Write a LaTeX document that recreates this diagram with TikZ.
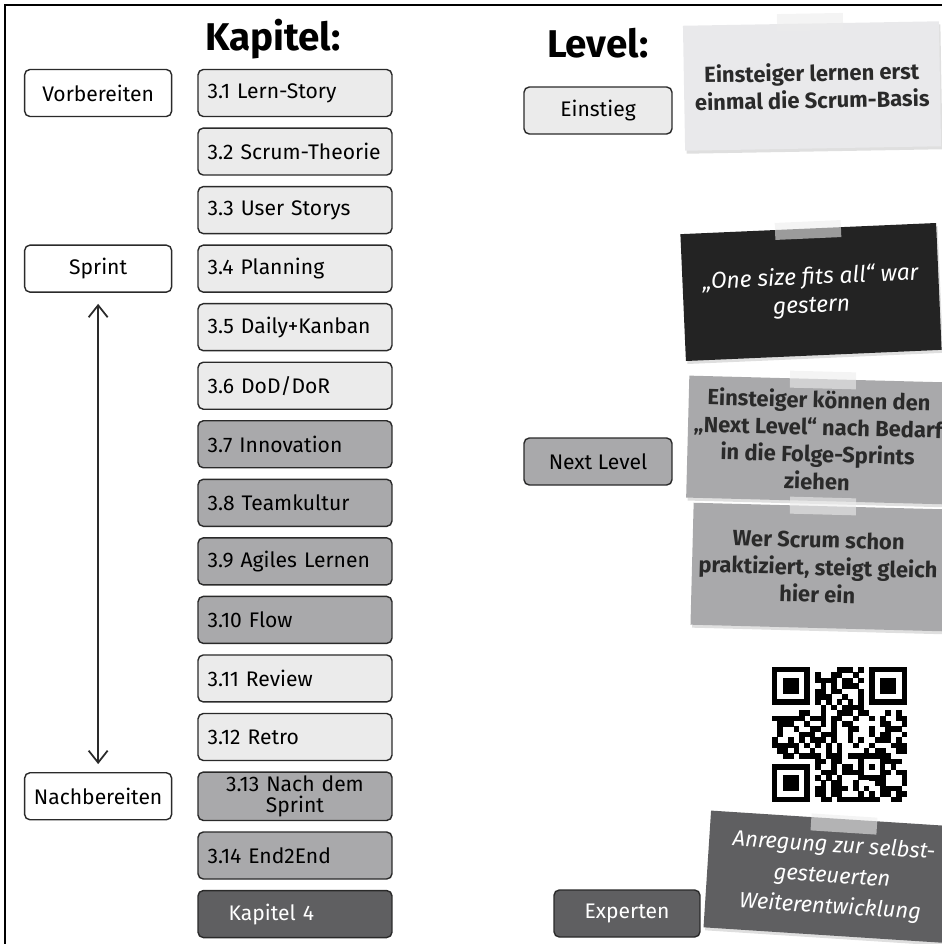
\documentclass[tikz,border=0pt]{standalone}
\usepackage{fontspec}
\setmainfont{Fira Sans}
\usepackage{xcolor}
\usetikzlibrary{positioning,arrows.meta,shadows}

\definecolor{boxlight}{HTML}{EBEBEB}
\definecolor{boxmid}{HTML}{A9A9AB}
\definecolor{boxdark}{HTML}{5F5F61}
\definecolor{notelight}{HTML}{E9E9EB}
\definecolor{noteblack}{HTML}{232323}
\definecolor{inkline}{HTML}{2A2A2A}

\begin{document}
\begin{tikzpicture}[x=0.02cm, y=-0.02cm,
  font=\fontsize{12}{12}\selectfont,
  chap/.style={draw=inkline, line width=0.8pt, rounded corners=3pt, minimum width=3.88cm, minimum height=0.94cm, text width=3.5cm, align=left, inner xsep=0.19cm, inner ysep=2pt},
  phase/.style={draw=inkline, line width=0.8pt, rounded corners=3pt, minimum width=2.94cm, minimum height=0.94cm, align=center, fill=white},
  levelbox/.style={phase, minimum width=2.96cm},
  note/.style={minimum width=5.12cm, minimum height=2.5cm, align=center, text=inkline, font=\fontsize{12.5}{15.5}\selectfont\bfseries, drop shadow={shadow xshift=0.3mm, shadow yshift=-0.6mm, opacity=0.25}},
  darknote/.style={note, text=white, font=\fontsize{13}{16}\selectfont\itshape},
  strip/.style={fill=gray!15, fill opacity=0.6, minimum width=1.32cm, minimum height=0.34cm, inner sep=0pt},
  title/.style={font=\fontsize{22}{26}\selectfont\bfseries, anchor=base},
  >={Straight Barb[length=2.4mm, width=3.8mm, line width=1pt]}]
\path[use as bounding box, clip] (0,0) rectangle (942,944);
\draw[line width=0.6pt] (5,944) -- (5,5) -- (942,5);

\node[title] (kap) at (273,50) {Kapitel:};
\node[title] (lev) at (598,57) {Level:};

\node[chap, fill=boxlight] (c1) at (295,93) {3.1 Lern-Story};
\foreach \n/\txt/\col [remember=\n as \p (initially 1)] in {
  2/3.2 Scrum-Theorie/boxlight, 3/3.3 User Storys/boxlight,
  4/3.4 Planning/boxlight, 5/3.5 Daily+Kanban/boxlight,
  6/{3.6 DoD/DoR}/boxlight, 7/3.7 Innovation/boxmid,
  8/3.8 Teamkultur/boxmid, 9/3.9 Agiles Lernen/boxmid,
  10/3.10 Flow/boxmid, 11/3.11 Review/boxlight,
  12/3.12 Retro/boxlight}
  \node[chap, fill=\col, below=0.203cm of c\p] (c\n) {\txt};
\node[chap, fill=boxmid, align=center, below=0.203cm of c12] (c13) {3.13 Nach dem\\Sprint};
\node[chap, fill=boxmid, below=0.203cm of c13] (c14) {3.14 End2End};
\node[chap, fill=boxdark, text=white, below=0.203cm of c14] (c15) {\quad Kapitel 4};

\node[phase, left=0.5cm of c1] (vorb) {Vorbereiten};
\node[phase, left=0.5cm of c4] (sprint) {Sprint};
\node[phase, left=0.5cm of c13] (nach) {Nachbereiten};
\draw[<->, line width=1pt, draw=inkline, shorten <=0.22cm, shorten >=0.16cm] (sprint) -- (nach);

\node[levelbox, fill=boxlight] (einstieg) at (598,110.5) {Einstieg};
\node[levelbox, fill=boxmid] (nextlvl) at (598,461.5) {Next Level};
\node[levelbox, fill=boxdark, text=white, minimum width=2.92cm] (experten) at (627,913.5) {Experten};

\node[note, fill=notelight, rotate=1] (n1) at (812,86) {Einsteiger lernen erst\\einmal die Scrum-Basis};
\node[darknote, fill=noteblack, rotate=2.5, minimum height=2.54cm] (n2) at (811,292) {„One size fits all“ war\\gestern};
\node[note, fill=boxmid, rotate=-1.5, minimum width=5.04cm, minimum height=2.44cm] (n3) at (818,440) {Einsteiger können den\\„Next Level“ nach Bedarf\\in die Folge-Sprints\\ziehen};
\node[note, fill=boxmid, rotate=-1.5, minimum width=5.04cm, minimum height=2.44cm] (n4) at (818,567) {Wer Scrum schon\\praktiziert, steigt gleich\\hier ein};
\node[darknote, fill=boxdark, rotate=-3.7, minimum width=5.0cm, minimum height=2.34cm, font=\fontsize{12.5}{17.5}\selectfont\itshape] (n5) at (832,877) {Anregung zur selbst-\\gesteuerten\\Weiterentwicklung};

\node[strip, rotate=1] (tp1) at (810,22) {};
\node[strip, rotate=2.5] (tp2) at (808,230) {};
\node[strip, rotate=-1.5] (tp3) at (823,380) {};
\node[strip, rotate=-1.5] (tp4) at (823,506) {};
\node[strip, rotate=-3.7] (tp5) at (844,824) {};

\pgfmathsetseed{23}
\foreach \i in {0,...,24}{
  \foreach \j in {0,...,24}{
    \pgfmathtruncatemacro\qron{((\i<8 && \j<8) || (\i>16 && \j<8) || (\i<8 && \j>16)) ? 0 : (\i==6 ? (mod(\j,2)==0) : (\j==6 ? (mod(\i,2)==0) : (rnd<0.52)))}
    \ifnum\qron=1 \fill (772+5.4*\i,667+5.4*\j) rectangle ++(5.5,5.5); \fi
  }
}
\foreach \fx/\fy in {0/0, 18/0, 0/18}{
  \fill (772+5.4*\fx,667+5.4*\fy) rectangle ++(37.8,37.8);
  \fill[white] (777.4+5.4*\fx,672.4+5.4*\fy) rectangle ++(27,27);
  \fill (782.8+5.4*\fx,677.8+5.4*\fy) rectangle ++(16.2,16.2);
}
\fill (858.4,753.4) rectangle ++(27,27);
\fill[white] (863.8,758.8) rectangle ++(16.2,16.2);
\fill (869.2,764.2) rectangle ++(5.4,5.4);
\end{tikzpicture}
\end{document}
